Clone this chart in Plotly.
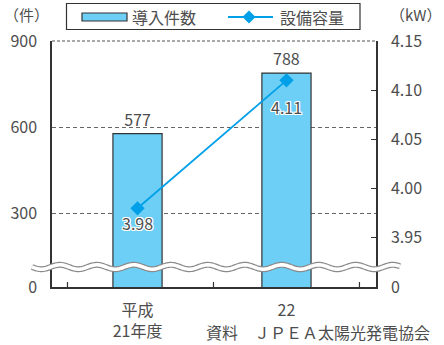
import numpy as np
import plotly.graph_objects as go

# ---- data ----
categories = ["平成<br>21年度", "22"]
installs = [577, 788]            # 導入件数 (件)
capacity = [3.98, 4.11]          # 設備容量 (kW)
left_ticktext = ["0", "300", "600", "900"]
right_ticktext = ["0", "3.95", "4.00", "4.05", "4.10", "4.15"]

FONT = "Noto Sans CJK JP, Noto Sans, sans-serif"
BAR_FILL = "#6dcff6"
LINE_C = "#00a0e9"
DARK = "#333333"
TXT = "#4d4d4d"

W, H = 444, 345
L, R, T, B = 52, 68, 41, 58
PW, PH = W - L - R, H - T - B


def px(x):
    return (x - L) / PW


def py(y):
    return (H - B - y) / PH


fig = go.Figure()

fig.add_trace(go.Bar(
    x=[0, 1], y=installs, width=0.33,
    marker=dict(color=BAR_FILL, line=dict(color=DARK, width=1.2)),
    text=[str(v) for v in installs], textposition="outside",
    textfont=dict(family=FONT, size=16, color=TXT),
    cliponaxis=False, showlegend=False, name="導入件数",
))

fig.add_trace(go.Scatter(
    x=[0, 1], y=capacity, yaxis="y2", mode="lines+markers",
    line=dict(color=LINE_C, width=1.8),
    marker=dict(symbol="diamond", size=11, color=LINE_C),
    showlegend=False, name="設備容量",
))

halo = ",".join(f"{a}px {b}px 0px white" for a, b in
                [(1, 1), (-1, -1), (1, -1), (-1, 1), (0, 1), (0, -1), (1, 0), (-1, 0)])
shifts = [-15, -27]
annotations = []
for i, v in enumerate(capacity):
    annotations.append(dict(
        x=i, y=v, xref="x", yref="y2", text=f"{v:.2f}", showarrow=False,
        yshift=shifts[i], font=dict(family=FONT, size=16, color=TXT, shadow=halo),
    ))

# unit labels and source
annotations += [
    dict(x=px(26), y=py(15), xref="paper", yref="paper", text="（件）", showarrow=False,
         xanchor="center", yanchor="middle", font=dict(family=FONT, size=15, color=TXT)),
    dict(x=px(443), y=py(15), xref="paper", yref="paper", text="（kW）", showarrow=False,
         xanchor="right", yanchor="middle", font=dict(family=FONT, size=15, color=TXT)),
    dict(x=px(432), y=py(332), xref="paper", yref="paper", text="資料　ＪＰＥＡ太陽光発電協会",
         showarrow=False, xanchor="right", yanchor="middle",
         font=dict(family=FONT, size=16, color=TXT)),
    dict(x=px(130), y=py(17), xref="paper", yref="paper", text="導入件数", showarrow=False,
         xanchor="left", yanchor="middle", font=dict(family=FONT, size=16, color=TXT)),
    dict(x=px(278), y=py(17), xref="paper", yref="paper", text="設備容量", showarrow=False,
         xanchor="left", yanchor="middle", font=dict(family=FONT, size=16, color=TXT)),
]

shapes = []
# top dashed line at 900
shapes.append(dict(type="line", xref="paper", yref="paper", x0=0, x1=1, y0=1, y1=1,
                   line=dict(color="#555", width=1.2, dash="3px,2px"), layer="above"))
# axis break wave
wx = np.linspace(32, 400, 300)
wy = 267 + 2.2 * np.sin((wx - 32) / 37.0 * 2 * np.pi)
path = "M " + " L ".join(f"{px(a):.5f},{py(b):.5f}" for a, b in zip(wx, wy))
shapes.append(dict(type="path", path=path, xref="paper", yref="paper",
                   line=dict(color="#8a8a8a", width=6), layer="above"))
shapes.append(dict(type="path", path=path, xref="paper", yref="paper",
                   line=dict(color="white", width=3.6), layer="above"))
# legend box
shapes.append(dict(type="rect", xref="paper", yref="paper", x0=px(66.5), x1=px(360),
                   y0=py(29.5), y1=py(3.5), line=dict(color=DARK, width=1.2), fillcolor="white"))
shapes.append(dict(type="rect", xref="paper", yref="paper", x0=px(82), x1=px(127),
                   y0=py(21), y1=py(13), line=dict(color=DARK, width=1.2), fillcolor=BAR_FILL))
shapes.append(dict(type="line", xref="paper", yref="paper", x0=px(228), x1=px(273),
                   y0=py(17), y1=py(17), line=dict(color=LINE_C, width=1.8)))
cx, cy, d = 249, 17, 6.5
shapes.append(dict(type="path", xref="paper", yref="paper",
                   path=f"M {px(cx-d)},{py(cy)} L {px(cx)},{py(cy-d)} L {px(cx+d)},{py(cy)} L {px(cx)},{py(cy+d)} Z",
                   line=dict(color=LINE_C, width=0), fillcolor=LINE_C))

fig.update_layout(
    width=W, height=H, margin=dict(l=L, r=R, t=T, b=B, autoexpand=False),
    paper_bgcolor="white", plot_bgcolor="white",
    font=dict(family=FONT, size=16, color=TXT),
    showlegend=False,
    xaxis=dict(
        range=[-0.574, 1.601], tickmode="array", tickvals=[0, 1], ticktext=categories,
        showgrid=False, zeroline=False, showline=True, linecolor=DARK, linewidth=1.5,
        ticks="", tickfont=dict(family=FONT, size=16, color=TXT), ticklabelstandoff=8,
        automargin=False,
    ),
    yaxis=dict(
        range=[42, 900], tickmode="array", tickvals=[42, 300, 600, 900], ticktext=left_ticktext,
        showgrid=True, gridcolor="#666", griddash="4px,3px", gridwidth=1,
        zeroline=False, showline=True, linecolor=DARK, linewidth=1.5, ticks="",
        tickfont=dict(family=FONT, size=16, color=TXT), ticklabelstandoff=10,
        automargin=False,
    ),
    yaxis2=dict(
        overlaying="y", side="right", range=[3.90, 4.15], tickmode="array",
        tickvals=[3.90, 3.95, 4.00, 4.05, 4.10, 4.15], ticktext=right_ticktext,
        showgrid=False, zeroline=False, showline=True, linecolor=DARK, linewidth=1.5,
        ticks="inside", ticklen=5, tickcolor=DARK, tickwidth=1.2,
        tickfont=dict(family=FONT, size=16, color=TXT), ticklabelstandoff=10,
        automargin=False,
    ),
    annotations=annotations, shapes=shapes,
)

# x-axis inner ticks at category boundaries (drawn as short lines)
for tx in [-0.47, 0.51, 1.49]:
    fig.add_shape(type="line", xref="x", yref="paper", x0=tx, x1=tx, y0=0, y1=5 / PH,
                  line=dict(color=DARK, width=1.2))

fig.write_html("out.html", config={"displayModeBar": False},
               post_script="document.body.style.margin='0px';document.body.style.overflow='hidden';")
